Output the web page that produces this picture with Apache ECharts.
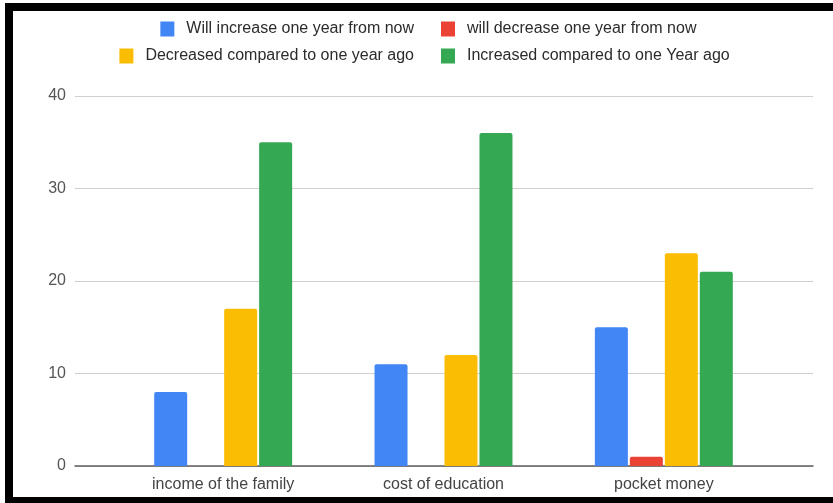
<!DOCTYPE html>
<html>
<head>
<meta charset="utf-8">
<script src="https://cdn.jsdelivr.net/npm/echarts@6/dist/echarts.min.js"></script>
<style>
  html, body { margin: 0; padding: 0; background: #fff; }
  #wrap { position: relative; width: 833px; height: 503px; overflow: hidden; }
  #chart { position: absolute; left: 0; top: 0; width: 833px; height: 503px; }
  #frame {
    position: absolute; left: 5px; top: 3px; width: 840px; height: 500px;
    box-sizing: border-box; pointer-events: none;
    border-left: 8px solid #000; border-top: 8px solid #000; border-bottom: 6px solid #000;
  }
</style>
</head>
<body>
<div id="wrap">
  <div id="chart"></div>
  <div id="frame"></div>
</div>
<script>
// Survey answers per topic
const categories = ['income of the family', 'cost of education', 'pocket money'];
const seriesNames = [
  'Will increase one year from now',
  'will decrease one year from now',
  'Decreased compared to one year ago',
  'Increased compared to one Year ago'
];
const willIncrease = [8, 11, 15];
const willDecrease = [0, 0, 1];
const decreasedAgo = [17, 12, 23];
const increasedAgo = [35, 36, 21];
const yTicks = { min: 0, max: 40, interval: 10 };

const colors = ['#4285F4', '#EA4335', '#FBBC04', '#34A853'];
const values = [willIncrease, willDecrease, decreasedAgo, increasedAgo];

const legendText = {
  color: '#2b2b2b', fontSize: 16, fontFamily: 'Liberation Sans, Arial, sans-serif',
  padding: [0, 0, 0, 7]
};
function legendAt(name, pos) {
  return Object.assign({
    data: [name], orient: 'horizontal', padding: 0,
    itemWidth: 14, itemHeight: 15, icon: 'rect',
    textStyle: legendText, selectedMode: false
  }, pos);
}

const chart = echarts.init(document.getElementById('chart'), null, { renderer: 'canvas' });
chart.setOption({
  animation: false,
  color: colors,
  legend: [
    legendAt(seriesNames[0], { right: 419, top: 21 }),
    legendAt(seriesNames[2], { right: 419, top: 48 }),
    legendAt(seriesNames[1], { left: 441, top: 21 }),
    legendAt(seriesNames[3], { left: 441, top: 48 })
  ],
  grid: [
    { left: 75, right: 20, top: 96, bottom: 37 },
    { left: 113, right: 59, top: 96, bottom: 37 }
  ],
  xAxis: [
    {
      gridIndex: 0, type: 'value', min: 0, max: 1,
      axisLine: { show: true, lineStyle: { color: '#5f5f5f', width: 1.5 } },
      axisTick: { show: false }, axisLabel: { show: false }, splitLine: { show: false }
    },
    {
      gridIndex: 1, type: 'category', data: categories,
      axisLine: { show: false }, axisTick: { show: false },
      axisLabel: {
        color: '#444', fontSize: 16, margin: 11,
        fontFamily: 'Liberation Sans, Arial, sans-serif'
      }
    }
  ],
  yAxis: [
    {
      gridIndex: 0, type: 'value', min: yTicks.min, max: yTicks.max, interval: yTicks.interval,
      axisLine: { show: false }, axisTick: { show: false },
      axisLabel: {
        color: '#555', fontSize: 16, margin: 9,
        fontFamily: 'Liberation Sans, Arial, sans-serif'
      },
      splitLine: { lineStyle: { color: '#d0d0d0', width: 1 } }
    },
    {
      gridIndex: 1, type: 'value', min: yTicks.min, max: yTicks.max, interval: yTicks.interval,
      show: false, splitLine: { show: false }
    }
  ],
  series: seriesNames.map((name, i) => ({
    name: name,
    type: 'bar',
    xAxisIndex: 1,
    yAxisIndex: 1,
    data: values[i],
    barWidth: 33,
    barGap: '6%',
    itemStyle: { color: colors[i], borderRadius: [2, 2, 0, 0] }
  }))
});
</script>
</body>
</html>
